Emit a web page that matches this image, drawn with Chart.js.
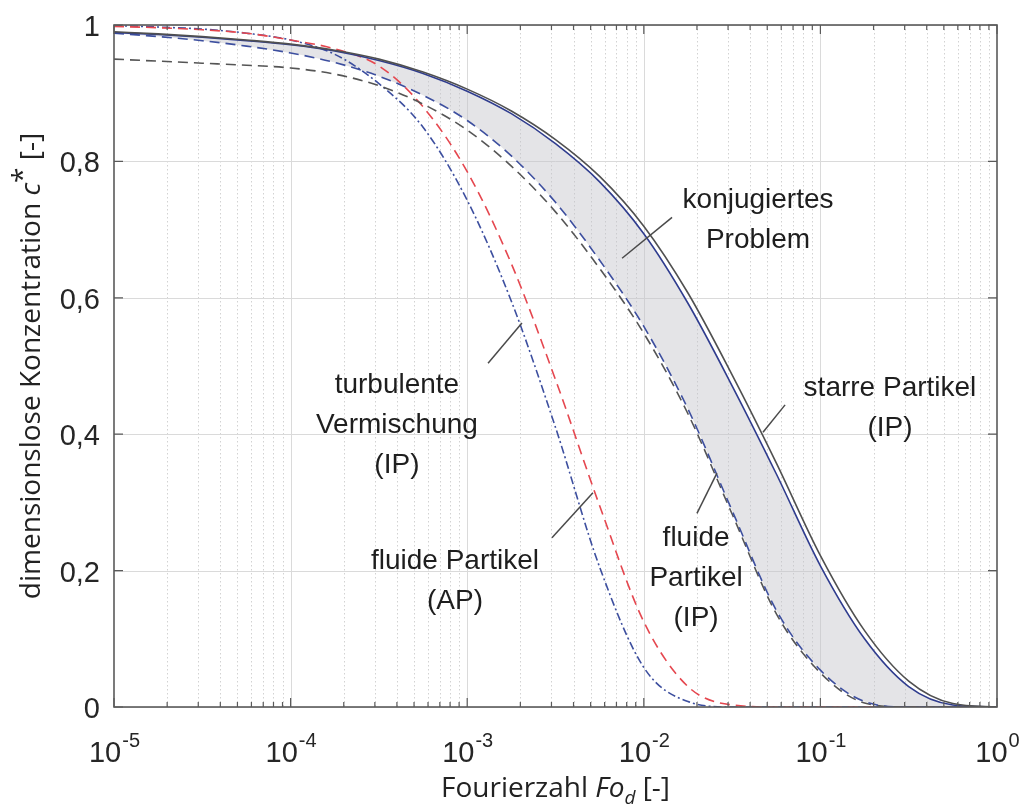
<!DOCTYPE html>
<html>
<head>
<meta charset="utf-8">
<script src="https://cdn.jsdelivr.net/npm/chart.js@4.4.1/dist/chart.umd.min.js"></script>
<style>
  html, body { margin: 0; padding: 0; background: #fff; }
  #wrap { width: 1025px; height: 809px; }
</style>
</head>
<body>
<div id="wrap"><canvas id="c" width="1025" height="809"></canvas></div>
<script>
// x: log10 of Fourierzahl Fo_d (0.25 decade steps)
const logFo = [-5, -4.75, -4.5, -4.25, -4, -3.75, -3.5, -3.25, -3, -2.75, -2.5,
               -2.25, -2, -1.75, -1.5, -1.25, -1, -0.75, -0.5, -0.25, 0];

// dimensionslose Konzentration c*
const starreGrau   = [0.990, 0.987, 0.983, 0.978, 0.972, 0.963, 0.950, 0.931, 0.906, 0.874, 0.832,
                      0.778, 0.705, 0.607, 0.487, 0.358, 0.222, 0.112, 0.038, 0.005, 0];
const starreBlau   = [0.989, 0.986, 0.982, 0.977, 0.971, 0.962, 0.948, 0.929, 0.903, 0.870, 0.826,
                      0.770, 0.694, 0.592, 0.471, 0.342, 0.207, 0.100, 0.030, 0.003, 0];
const fluidIpBlau  = [0.988, 0.983, 0.977, 0.969, 0.959, 0.945, 0.925, 0.897, 0.860, 0.808, 0.740,
                      0.655, 0.558, 0.437, 0.288, 0.142, 0.054, 0.008, 0, 0, 0];
const fluidIpGrau  = [0.950, 0.947, 0.944, 0.941, 0.937, 0.928, 0.911, 0.884, 0.846, 0.793, 0.726,
                      0.643, 0.548, 0.430, 0.283, 0.137, 0.050, 0.006, 0, 0, 0];
const fluidApRot   = [0.998, 0.996, 0.993, 0.988, 0.978, 0.965, 0.940, 0.880, 0.785, 0.650, 0.480,
                      0.295, 0.125, 0.030, 0.003, 0, 0, 0, 0, 0, 0];
const turbulentBlau = [0.999, 0.997, 0.994, 0.988, 0.978, 0.957, 0.914, 0.850, 0.743, 0.595, 0.410,
                      0.205, 0.058, 0.008, 0, 0, 0, 0, 0, 0, 0];

// tick labels
const xTickExps = ['-5', '-4', '-3', '-2', '-1', '0'];
const yTickVals = [0, 0.2, 0.4, 0.6, 0.8, 1];
const yTickLabels = ['0', '0,2', '0,4', '0,6', '0,8', '1'];

// text labels: [log10 Fo, c*] of the first line centre
const labels = [
    { text: ['konjugiertes', 'Problem'], at: [-1.353, 0.743] },
    { text: ['starre Partikel', '(IP)'], at: [-0.606, 0.468] },
    { text: ['fluide', 'Partikel', '(IP)'], at: [-1.704, 0.248] },
    { text: ['fluide Partikel', '(AP)'], at: [-3.069, 0.213] },
    { text: ['turbulente', 'Vermischung', '(IP)'], at: [-3.398, 0.472] }
];
// leader lines from the labels to the curves: [log10 Fo, c*] pairs
const leaders = [
    [[-1.840, 0.718], [-2.123, 0.658]],
    [[-1.200, 0.443], [-1.325, 0.403]],
    [[-1.699, 0.284], [-1.586, 0.343]],
    [[-2.520, 0.248], [-2.288, 0.314]],
    [[-2.882, 0.504], [-2.690, 0.563]]
];

const pts = arr => arr.map((v, i) => ({ x: Math.pow(10, logFo[i]), y: v }));

const TICK_FONT = '29px "Liberation Sans", Arial, sans-serif';
const EXP_FONT = '20px "Liberation Sans", Arial, sans-serif';
const LABEL_FONT = '28px "Liberation Sans", Arial, sans-serif';

const frame = {
    id: 'frame',
    beforeDraw(chart) {
        const { ctx, chartArea: a, scales: { x, y } } = chart;
        ctx.save();
        ctx.fillStyle = '#fff';
        ctx.fillRect(0, 0, chart.width, chart.height);
        ctx.lineWidth = 1;

        // minor decade grid, dotted
        ctx.strokeStyle = '#d2d2d2';
        ctx.setLineDash([1.5, 2.5]);
        for (let e = -5; e < 0; e++) {
            for (let k = 2; k <= 9; k++) {
                const px = Math.round(x.getPixelForValue(k * Math.pow(10, e))) + 0.5;
                ctx.beginPath(); ctx.moveTo(px, a.top); ctx.lineTo(px, a.bottom); ctx.stroke();
            }
        }
        ctx.setLineDash([]);

        // major grid
        ctx.strokeStyle = '#dadada';
        for (let e = -4; e < 0; e++) {
            const px = Math.round(x.getPixelForValue(Math.pow(10, e))) + 0.5;
            ctx.beginPath(); ctx.moveTo(px, a.top); ctx.lineTo(px, a.bottom); ctx.stroke();
        }
        yTickVals.forEach(v => {
            const py = Math.round(y.getPixelForValue(v)) + 0.5;
            ctx.beginPath(); ctx.moveTo(a.left, py); ctx.lineTo(a.right, py); ctx.stroke();
        });
        ctx.restore();
    },
    afterDatasetsDraw(chart) {
        const { ctx, chartArea: a, scales: { x, y } } = chart;
        ctx.save();

        // box
        ctx.strokeStyle = '#5a5a5a';
        ctx.lineWidth = 1.6;
        ctx.strokeRect(a.left, a.top, a.right - a.left, a.bottom - a.top);

        // inward ticks
        ctx.lineWidth = 1.2;
        for (let e = -5; e <= 0; e++) {
            for (let k = 1; k <= 9; k++) {
                if (e === 0 && k > 1) break;
                const px = x.getPixelForValue(k * Math.pow(10, e));
                const len = k === 1 ? 9 : 5;
                ctx.beginPath();
                ctx.moveTo(px, a.bottom); ctx.lineTo(px, a.bottom - len);
                ctx.moveTo(px, a.top); ctx.lineTo(px, a.top + len);
                ctx.stroke();
            }
        }
        yTickVals.forEach(v => {
            const py = y.getPixelForValue(v);
            ctx.beginPath();
            ctx.moveTo(a.left, py); ctx.lineTo(a.left + 9, py);
            ctx.moveTo(a.right, py); ctx.lineTo(a.right - 9, py);
            ctx.stroke();
        });

        // y tick labels
        ctx.fillStyle = '#262626';
        ctx.font = TICK_FONT;
        ctx.textAlign = 'right';
        ctx.textBaseline = 'middle';
        yTickVals.forEach((v, i) => {
            ctx.fillText(yTickLabels[i], a.left - 14, y.getPixelForValue(v) + 3);
        });

        // x tick labels 10^n
        ctx.textAlign = 'left';
        ctx.textBaseline = 'alphabetic';
        xTickExps.forEach(ex => {
            const px = x.getPixelForValue(Math.pow(10, Number(ex)));
            ctx.font = TICK_FONT;
            const wb = ctx.measureText('10').width;
            ctx.font = EXP_FONT;
            const we = ctx.measureText(ex).width;
            const x0 = px - (wb + we) / 2;
            ctx.font = TICK_FONT;
            ctx.fillText('10', x0, a.bottom + 55);
            ctx.font = EXP_FONT;
            ctx.fillText(ex, x0 + wb + 1, a.bottom + 40);
        });

        // axis titles
        const tf = '28px "Open Sans", sans-serif';
        const tfi = 'italic 28px "Open Sans", sans-serif';
        const tfsi = 'italic 19px "Open Sans", sans-serif';
        ctx.fillStyle = '#222';
        const xParts = [['Fourierzahl ', tf, 0], ['Fo', tfi, 0], ['d', tfsi, 7], [' [-]', tf, 0]];
        let wx = 0;
        xParts.forEach(p => { ctx.font = p[1]; wx += ctx.measureText(p[0]).width; });
        let cx = (a.left + a.right) / 2 - wx / 2;
        const by = 797;
        xParts.forEach(p => {
            ctx.font = p[1];
            ctx.fillText(p[0], cx, by + p[2]);
            cx += ctx.measureText(p[0]).width;
        });

        ctx.save();
        ctx.translate(40, (a.top + a.bottom) / 2);
        ctx.rotate(-Math.PI / 2);
        const yParts = [['dimensionslose Konzentration ', tf, 0], ['c', tfi, 0], ['*', tf, -8], [' [-]', tf, 0]];
        let wy = 0;
        yParts.forEach(p => { ctx.font = p[1]; wy += ctx.measureText(p[0]).width; });
        let cy = -wy / 2;
        yParts.forEach(p => {
            ctx.font = p[1];
            ctx.fillText(p[0], cy, p[2]);
            cy += ctx.measureText(p[0]).width;
        });
        ctx.restore();

        // leader lines
        ctx.strokeStyle = '#4a4a4a';
        ctx.lineWidth = 1.5;
        leaders.forEach(l => {
            ctx.beginPath();
            ctx.moveTo(x.getPixelForValue(Math.pow(10, l[0][0])), y.getPixelForValue(l[0][1]));
            ctx.lineTo(x.getPixelForValue(Math.pow(10, l[1][0])), y.getPixelForValue(l[1][1]));
            ctx.stroke();
        });

        // labels
        ctx.fillStyle = '#1e1e1e';
        ctx.font = LABEL_FONT;
        ctx.textAlign = 'center';
        ctx.textBaseline = 'middle';
        labels.forEach(lb => {
            const px = x.getPixelForValue(Math.pow(10, lb.at[0]));
            const py = y.getPixelForValue(lb.at[1]);
            lb.text.forEach((t, i) => ctx.fillText(t, px, py + i * 40));
        });
        ctx.restore();
    }
};

const line = (data, color, dash, width) => ({
    data: pts(data),
    borderColor: color,
    borderWidth: width || 1.6,
    borderDash: dash,
    pointRadius: 0,
    fill: false,
    cubicInterpolationMode: 'monotone'
});

const dsStarreGrau = line(starreGrau, '#505050', [], 1.6);
const dsStarreBlau = line(starreBlau, '#2f3c8e', [], 1.6);
dsStarreBlau.fill = { target: 2, above: 'rgba(196,196,202,0.45)', below: 'rgba(196,196,202,0.45)' };

new Chart(document.getElementById('c'), {
    type: 'line',
    data: {
        datasets: [
            dsStarreGrau,
            dsStarreBlau,
            line(fluidIpBlau, '#3d4f9f', [10, 6]),
            line(fluidIpGrau, '#555555', [10, 6]),
            line(fluidApRot, '#e5474f', [10, 6]),
            line(turbulentBlau, '#3d4f9f', [8, 3, 2, 3])
        ]
    },
    options: {
        responsive: false,
        animation: false,
        events: [],
        layout: { padding: { left: 114, right: 28, top: 25, bottom: 102 } },
        plugins: {
            legend: { display: false },
            tooltip: { enabled: false },
            filler: { drawTime: 'beforeDatasetsDraw' }
        },
        scales: {
            x: { type: 'logarithmic', min: 1e-5, max: 1, display: false },
            y: { type: 'linear', min: 0, max: 1, display: false }
        }
    },
    plugins: [frame]
});
</script>
</body>
</html>
